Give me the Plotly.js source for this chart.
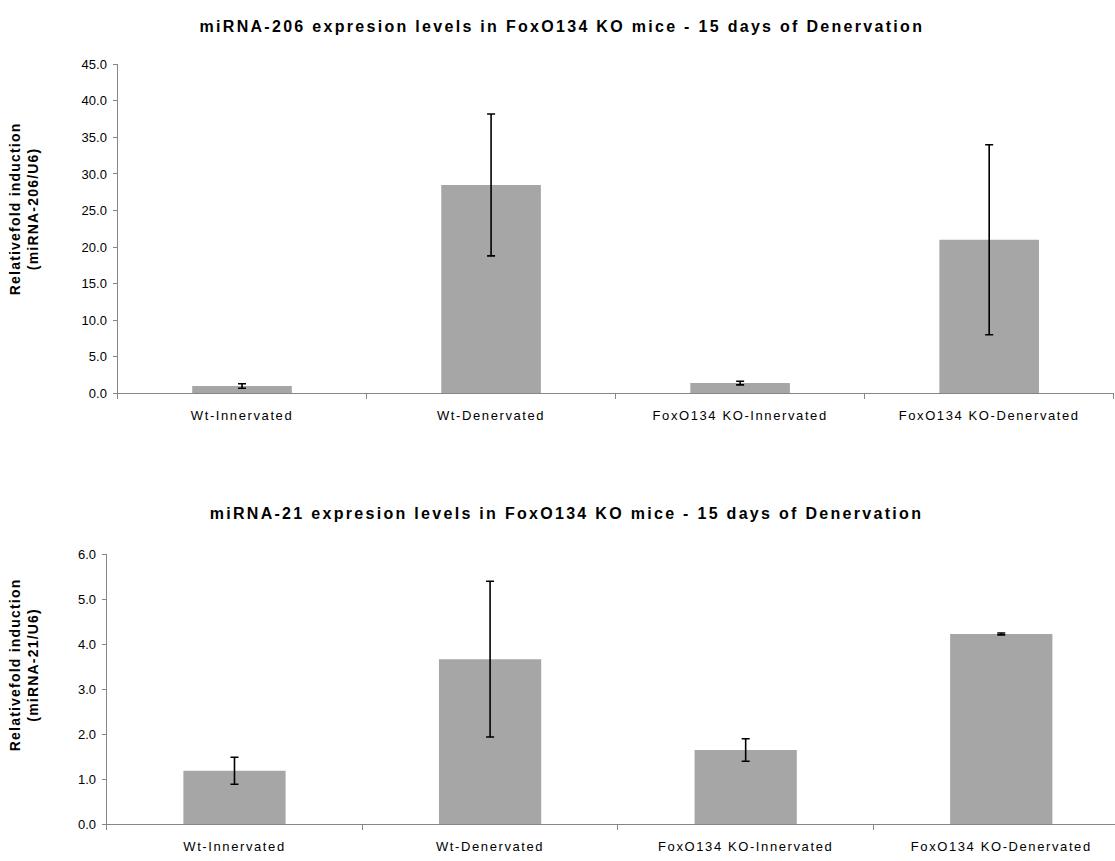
<!DOCTYPE html>
<html>
<head>
<meta charset="utf-8">
<script src="https://cdn.plot.ly/plotly-3.0.1.min.js"></script>
<style>
html,body{margin:0;padding:0;background:#fff;}
#chart{width:1115px;height:861px;}
#chart .xtick text, #chart .x2tick text{letter-spacing:1.6px;}
#chart .annotation[data-index="0"] text, #chart .annotation[data-index="1"] text{letter-spacing:2.3px;}
#chart .annotation[data-index="2"] text, #chart .annotation[data-index="3"] text{letter-spacing:1.2px;}
</style>
</head>
<body>
<div id="chart"></div>
<script>
const categories = ["Wt-Innervated", "Wt-Denervated", "FoxO134 KO-Innervated", "FoxO134 KO-Denervated"];
const mir206Values = [1.0, 28.5, 1.4, 21.0];
const mir206Errors = [0.3, 9.7, 0.25, 13.0];
const mir21Values = [1.19, 3.67, 1.65, 4.23];
const mir21Errors = [0.3, 1.73, 0.25, 0.02];
const title206 = "miRNA-206 expresion levels in FoxO134 KO mice - 15 days of Denervation";
const title21 = "miRNA-21 expresion levels in FoxO134 KO mice - 15 days of Denervation";
const ytitle206 = ["Relativefold induction", "(miRNA-206/U6)"];
const ytitle21 = ["Relativefold induction", "(miRNA-21/U6)"];

const W = 1115, H = 861;
const font = "Liberation Sans, Arial, sans-serif";
const barColor = "#a6a6a6";
const axisColor = "#868686";

function bar(vals, errs, xa, ya) {
  return {
    type: "bar", x: categories, y: vals, xaxis: xa, yaxis: ya,
    width: 0.4,
    marker: {color: barColor, line: {width: 0}},
    error_y: {type: "data", array: errs, visible: true, color: "#000", thickness: 1.6, width: 4},
    hoverinfo: "x+y", showlegend: false
  };
}

const data = [
  bar(mir206Values, mir206Errors, "x", "y"),
  bar(mir21Values, mir21Errors, "x2", "y2")
];

function xaxis(domain, range, anchor) {
  return {
    domain: domain, anchor: anchor, type: "category", range: range,
    showline: true, linecolor: axisColor, linewidth: 1,
    ticks: "outside", tickson: "boundaries", ticklen: 5, tickcolor: axisColor, tickwidth: 1,
    showgrid: false, zeroline: false,
    tickfont: {family: font, size: 13, color: "#000"},
    ticklabelstandoff: 10, fixedrange: true
  };
}
function yaxis(domain, range, dtick, anchor) {
  return {
    domain: domain, anchor: anchor, range: range, dtick: dtick, tick0: 0,
    tickformat: ".1f",
    showline: true, linecolor: axisColor, linewidth: 1,
    ticks: "outside", ticklen: 4, tickcolor: axisColor, tickwidth: 1,
    showgrid: false, zeroline: false,
    tickfont: {family: font, size: 13, color: "#000"},
    ticklabelstandoff: 3, fixedrange: true
  };
}

const layout = {
  width: W, height: H,
  margin: {l: 0, r: 0, t: 0, b: 0},
  paper_bgcolor: "#fff", plot_bgcolor: "#fff",
  bargap: 0.6,
  xaxis: xaxis([117.5 / W, 1113.7 / W], [-0.5, 3.5], "y"),
  yaxis: yaxis([(H - 393.3) / H, (H - 64.3) / H], [0, 45], 5, "x"),
  xaxis2: xaxis([106.7 / W, 1], [-0.5, 3.445], "y2"),
  yaxis2: yaxis([(H - 824.3) / H, (H - 554.3) / H], [0, 6], 1, "x2"),
  annotations: [
    {text: "<b>" + title206 + "</b>", xref: "paper", yref: "paper", x: 562 / W, y: 1 - 27 / H,
     showarrow: false, xanchor: "center", yanchor: "middle", font: {family: font, size: 16, color: "#000"}},
    {text: "<b>" + title21 + "</b>", xref: "paper", yref: "paper", x: 566 / W, y: 1 - 513 / H,
     showarrow: false, xanchor: "center", yanchor: "middle", font: {family: font, size: 16, color: "#000"}},
    {text: "<b>" + ytitle206.join("<br>") + "</b>", xref: "paper", yref: "paper", x: 24 / W, y: 1 - 209 / H,
     textangle: -90, showarrow: false, xanchor: "center", yanchor: "middle",
     font: {family: font, size: 14, color: "#000"}},
    {text: "<b>" + ytitle21.join("<br>") + "</b>", xref: "paper", yref: "paper", x: 24 / W, y: 1 - 665 / H,
     textangle: -90, showarrow: false, xanchor: "center", yanchor: "middle",
     font: {family: font, size: 14, color: "#000"}}
  ]
};

Plotly.newPlot("chart", data, layout, {displayModeBar: false, staticPlot: true});
</script>
</body>
</html>
